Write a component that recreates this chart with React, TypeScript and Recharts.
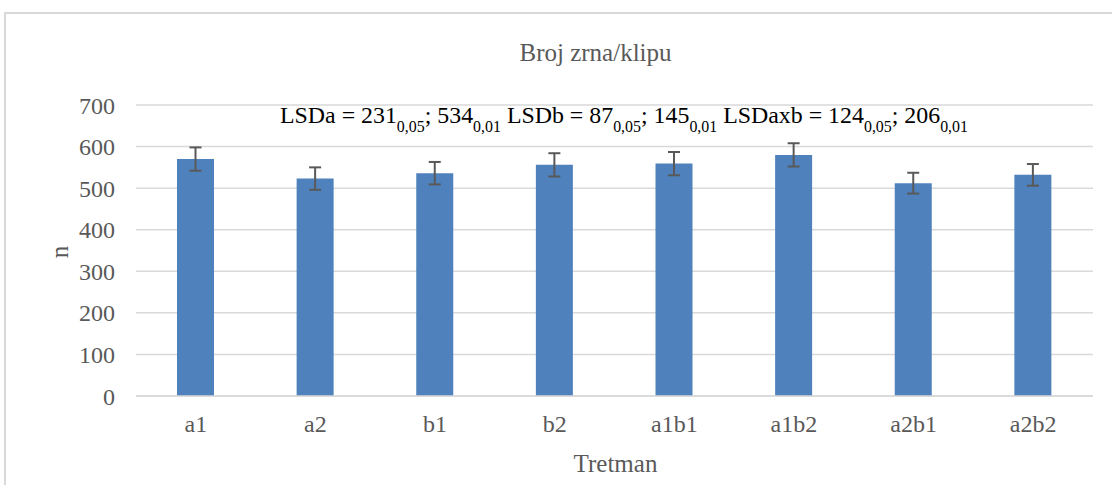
import { BarChart, Bar, XAxis, YAxis, CartesianGrid, ErrorBar } from 'recharts';

const categories = ['a1', 'a2', 'b1', 'b2', 'a1b1', 'a1b2', 'a2b1', 'a2b2'];
const means = [570, 523, 536, 556, 559, 580, 512, 532];
const errors = [28, 27, 27, 28, 28, 28, 25, 26];
const yTicks = [0, 100, 200, 300, 400, 500, 600, 700];

const title = 'Broj zrna/klipu';
const xTitle = 'Tretman';
const yTitle = 'n';
// LSD note: [main text, subscript] pairs
const lsdParts: [string, string][] = [
  ['LSDa = 231', '0,05'],
  ['; 534', '0,01'],
  [' LSDb = 87', '0,05'],
  ['; 145', '0,01'],
  [' LSDaxb = 124', '0,05'],
  ['; 206', '0,01'],
];

const data = categories.map((name, i) => ({ name, value: means[i], err: errors[i] }));

const FONT = '"Liberation Serif", "Times New Roman", serif';
const GRAY = '#595959';
const serif = { fontFamily: FONT };

export default function App() {
  return (
    <div
      style={{
        position: 'fixed',
        left: 0,
        top: 0,
        width: 1112,
        height: 485,
        overflow: 'hidden',
        background: '#fff',
        fontFamily: FONT,
      }}
    >
      <div
        style={{
          position: 'absolute',
          left: 4,
          top: 12,
          width: 1200,
          height: 600,
          border: '2px solid #D9D9D9',
          boxSizing: 'border-box',
        }}
      />
      <div style={{ position: 'absolute', left: 0, top: 0 }}>
        <BarChart width={1112} height={485} data={data} margin={{ top: 105, right: 19, bottom: 59, left: 0 }}>
          <CartesianGrid vertical={false} stroke="#D9D9D9" strokeWidth={1.5} />
          <XAxis
            dataKey="name"
            height={30}
            tickLine={false}
            tickSize={0}
            tickMargin={19}
            axisLine={{ stroke: '#D9D9D9', strokeWidth: 1.5 }}
            tick={{ fill: GRAY, fontSize: 24, style: serif }}
          />
          <YAxis
            width={136}
            domain={[0, 700]}
            ticks={yTicks}
            tickLine={false}
            tickSize={0}
            tickMargin={21}
            axisLine={false}
            tick={{ fill: GRAY, fontSize: 24, style: serif }}
          />
          <Bar dataKey="value" fill="#4F81BD" barSize={37} isAnimationActive={false}>
            <ErrorBar dataKey="err" width={6} stroke={GRAY} strokeWidth={2} isAnimationActive={false} />
          </Bar>
        </BarChart>
      </div>
      <svg width={1112} height={485} style={{ position: 'absolute', left: 0, top: 0, pointerEvents: 'none' }}>
        <text x={595.5} y={61} textAnchor="middle" style={serif} fontSize={25} fill={GRAY}>
          {title}
        </text>
        <text x={615.5} y={471.5} textAnchor="middle" style={serif} fontSize={25} fill={GRAY}>
          {xTitle}
        </text>
        <text
          x={68}
          y={252}
          textAnchor="middle"
          style={serif}
          fontSize={25}
          fill={GRAY}
          transform="rotate(-90, 68, 252)"
        >
          {yTitle}
        </text>
        <text
          x={280}
          y={122.7}
          style={serif}
          fontSize={24}
          fill="#000"
          textLength={688}
          lengthAdjust="spacingAndGlyphs"
        >
          {lsdParts.map(([main, sub], i) => (
            <tspan key={i}>
              <tspan dy={i === 0 ? 0 : -9}>{main}</tspan>
              <tspan dy={9} fontSize={16}>
                {sub}
              </tspan>
            </tspan>
          ))}
        </text>
      </svg>
    </div>
  );
}
